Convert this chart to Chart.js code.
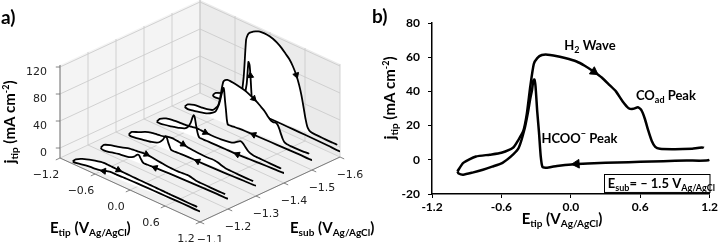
<!DOCTYPE html>
<html>
<head>
<meta charset="utf-8">
<script src="https://cdn.jsdelivr.net/npm/chart.js@4.4.1/dist/chart.umd.min.js"></script>
<style>
  html, body { margin: 0; padding: 0; background: #fff; }
  #wrap { position: relative; width: 720px; height: 242px; overflow: hidden; }
  #chartA { position: absolute; left: 0; top: 0; }
  #chartB { position: absolute; left: 360px; top: 0; }
</style>
</head>
<body>
<div id="wrap">
  <canvas id="chartA" width="380" height="242"></canvas>
  <canvas id="chartB" width="360" height="242"></canvas>
</div>
<script>
'use strict';

// ---- data ----
const esubVals = [-1.1, -1.2, -1.3, -1.4, -1.5, -1.6];

// forward scan (upper branch, going right)
const fwdE = [-0.98, -0.93, -0.82, -0.7, -0.6, -0.5, -0.45, -0.41, -0.38, -0.35,
  -0.32, -0.29, -0.25, -0.2, -0.15, -0.05, 0.05, 0.12, 0.2, 0.27,
  0.33, 0.39, 0.45, 0.5, 0.54, 0.58, 0.61, 0.64, 0.67, 0.7,
  0.73, 0.77, 0.9, 1.05, 1.15];
const fwd11 = [-11, -6, -1, 2.5, 5, 7, 7.5, 7.6, 7.6, 7.5, 7.4, 7.3, 7.2, 7, 6.9, 6.7, 6.5, 6.4, 6.35, 6.3,
  6.2, 6.2, 6.1, 6.1, 6, 6, 6, 5.9, 5.9, 5.8, 5.8, 5.8, 5.7, 5.6, 5.5];
const fwd12 = [-10, -4, 0, 2.5, 5, 8, 8.5, 9, 9.2, 9.4, 9.8, 10.3, 10.8, 11, 10.6, 9.5, 8.5, 7.8, 7.2, 7,
  7, 7.3, 7.8, 8, 7.8, 7, 6.3, 5.8, 5.5, 5.3, 5.2, 5.2, 5.1, 5, 5];
const fwd13 = [-9.5, -4, 0, 5, 8, 9.5, 10, 10.5, 11, 12, 13, 13.5, 14, 14, 13.5, 12.5, 11, 10.3, 9.8, 9.5,
  9.3, 9.5, 10, 9.7, 9, 8, 7, 6.3, 5.8, 5.5, 5.3, 5.2, 5.1, 5, 5];
const fwd14 = [-10, -4, 1, 3, 4, 4.5, 5, 5.5, 6, 6.5, 7, 7.2, 7.2, 7, 6.8, 6.6, 6.8, 7.2, 8, 9,
  10.5, 14, 17.5, 16, 12, 8.5, 7, 6, 5.5, 5.2, 5, 5, 4.8, 4.6, 4.5];
const fwd15 = [-6.8, -1.8, 1.9, 3, 4.1, 7, 12, 17, 27, 43, 56, 59.5, 61.3, 61.5, 61, 59.5, 57.5, 55, 51.5, 48,
  44, 40, 34, 30.2, 29.8, 30.7, 29, 24, 17, 11, 7.5, 6.4, 6.2, 6.5, 7];
const fwd16 = [-9, -4, 0, 3, 6, 8, 40, 95, 104, 108, 110, 112, 114, 116, 117, 117, 115, 112, 107, 101,
  96, 88, 77, 64, 50, 32, 18, 8, 4, 2.5, 2, 1.8, 1.5, 1.3, 1.3];

// reverse scan (lower branch, going left)
const revE = [1.2, 1.0, 0.8, 0.6, 0.4, 0.2, 0.05, -0.05, -0.12, -0.18,
  -0.22, -0.245, -0.26, -0.275, -0.29, -0.305, -0.315, -0.325, -0.335, -0.35,
  -0.37, -0.4, -0.45, -0.5, -0.59, -0.68, -0.76, -0.85, -0.93, -0.97];
const rev11 = [1, 0.8, 0.6, 0.4, 0.2, 0, -0.3, -0.5, -0.7, -0.9, -1, -1.1, -1.1, -1.1, -1.1,
  -1.1, -1.1, -1.1, -1.2, -1.4, -1.8, -2.5, -4.5, -5.5, -6.8, -7.5, -8.5, -10, -11.5, -11.5];
const rev12 = [0.5, 0, -0.5, -1, -1.5, -2, -2.6, -3.1, -3.5, -3.8, -4, -4, -3.5, -2, 0,
  2, 3.5, 4.5, 5, 4.5, 3, 0, -3, -5, -6.5, -7.5, -9, -11, -12, -11.5];
const rev13 = [0.5, -0.5, -1.3, -2, -2.5, -2.8, -3, -3.3, -3.6, -4, -4.2, -4.2, -3.5, -1, 2,
  5, 8, 10.5, 12, 12.5, 10, 5, 0, -3, -5.5, -7, -8.5, -10, -11, -10.5];
const rev14 = [0, -1, -2, -3, -4, -4.3, -4.5, -4.7, -4.8, -5, -5, -5, -4, -1, 4,
  10, 15, 20, 23.5, 24.5, 20, 11, 3, -1, -4, -6, -8, -9.5, -10.5, -10.5];
const rev15 = [0, -0.4, -0.8, -1.2, -1.6, -2, -2.4, -3, -3.6, -4.3, -4.6, -4.2, 2, 16, 28,
  43, 47, 46, 41, 36, 28, 18, 7, 3, -1.75, -4, -5.8, -7.5, -8.7, -8];
const rev16 = [-6.4, -6, -5.8, -5.6, -5.5, -5.5, -5.5, -5.5, -5.5, -5.6, -5.8, -6, -6, -5.5, -3,
  5, 15, 30, 45, 60, 64, 30, 8, 0, -4, -6.5, -8.5, -10, -11, -10.5];

const fwdJ = [fwd11, fwd12, fwd13, fwd14, fwd15, fwd16];
const revJ = [rev11, rev12, rev13, rev14, rev15, rev16];

// where the direction arrows sit (Etip)
const fwdArrowE = [-0.2, -0.2, -0.05, -0.15, 0.2, 0.45];
const revArrowE = [-0.45, -0.05, 0.2, 0.4, 0.2, -0.335];
const bArrowE = [0.2, 0.05];

// axis ticks
const eTicks = [-1.2, -0.6, 0, 0.6, 1.2];
const sTicks = [-1.1, -1.2, -1.3, -1.4, -1.5, -1.6];
const jTicks = [0, 40, 80, 120];

// ---- 3D box: limits and on-screen geometry ----
const eLim = [-1.2, 1.2], sLim = [-1.1, -1.6], jLim = [-14.8, 123];
const boxOrigin = [60, 158], eAxisPx = [140, 64], sAxisPx = [140, -65], jPx = 0.675;

function proj(e, s, j) {
  const u = (e - eLim[0]) / (eLim[1] - eLim[0]);
  const w = (s - sLim[0]) / (sLim[1] - sLim[0]);
  return {
    x: boxOrigin[0] + u * eAxisPx[0] + w * sAxisPx[0],
    y: boxOrigin[1] + u * eAxisPx[1] + w * sAxisPx[1] - (j - jLim[0]) * jPx
  };
}

function nearest(arr, v) {
  let b = 0;
  arr.forEach((a, i) => { if (Math.abs(a - v) < Math.abs(arr[b] - v)) b = i; });
  return b;
}

function arrowRadius(size) {
  return c => (c.type === 'data' && c.dataset.arrows.includes(c.dataIndex)) ? size : 0;
}

function arrowRot(c) {
  if (c.type !== 'data') return 0;
  const d = c.dataset.data, i = c.dataIndex;
  const a = d[Math.max(i - 1, 0)], b = d[Math.min(i + 1, d.length - 1)];
  const xs = c.chart.scales.x, ys = c.chart.scales.y;
  const dx = xs.getPixelForValue(b.x) - xs.getPixelForValue(a.x);
  const dy = ys.getPixelForValue(b.y) - ys.getPixelForValue(a.y);
  return Math.atan2(dy, dx) * 180 / Math.PI + 90;
}

// no stroke on the turn-around at the positive end (upper and lower ends stay apart)
const turnGap = {
  borderColor: c => c.p0DataIndex === fwdE.length - 1 ? 'rgba(0,0,0,0)' : undefined
};

function richText(ctx, runs, x, y, align, angle) {
  ctx.save();
  ctx.translate(x, y);
  if (angle) ctx.rotate(angle);
  ctx.textAlign = 'left';
  ctx.textBaseline = 'alphabetic';
  ctx.fillStyle = '#000';
  let total = 0;
  runs.forEach(r => { ctx.font = 'bold ' + r[1] + 'px Lato'; total += ctx.measureText(r[0]).width; });
  let cx = align === 'center' ? -total / 2 : align === 'right' ? -total : 0;
  runs.forEach(r => {
    ctx.font = 'bold ' + r[1] + 'px Lato';
    ctx.fillText(r[0], cx, r[2] || 0);
    cx += ctx.measureText(r[0]).width;
  });
  ctx.restore();
}

const tipTitle = [['E', 15], ['tip', 10, 3], [' (V', 15], ['Ag/AgCl', 10, 3], [')', 15]];
const subTitle = [['E', 15], ['sub', 10, 3], [' (V', 15], ['Ag/AgCl', 10, 3], [')', 15]];
const jTitle = [['j', 16], ['tip', 10, 3], [' (mA cm', 15], ['-2', 9, -6], [')', 15]];

const fmt = v => v.toFixed(1).replace('-', '\u2212');

// ---- panel a ----
const box3d = {
  id: 'box3d',
  beforeDatasetsDraw(chart) {
    const ctx = chart.ctx, xs = chart.scales.x, ys = chart.scales.y;
    const P = (e, s, j) => { const p = proj(e, s, j); return [xs.getPixelForValue(p.x), ys.getPixelForValue(p.y)]; };
    const [e0, e1] = eLim, [s0, s1] = sLim, [j0, j1] = jLim;
    const poly = (pts, color) => {
      ctx.beginPath();
      pts.forEach((p, i) => i ? ctx.lineTo(p[0], p[1]) : ctx.moveTo(p[0], p[1]));
      ctx.closePath();
      ctx.fillStyle = color;
      ctx.fill();
    };
    const seg = (a, b) => { ctx.beginPath(); ctx.moveTo(a[0], a[1]); ctx.lineTo(b[0], b[1]); ctx.stroke(); };
    ctx.save();
    poly([P(e0, s0, j0), P(e0, s1, j0), P(e0, s1, j1), P(e0, s0, j1)], '#f4f4f4');
    poly([P(e0, s1, j0), P(e1, s1, j0), P(e1, s1, j1), P(e0, s1, j1)], '#ebebeb');
    poly([P(e0, s0, j0), P(e1, s0, j0), P(e1, s1, j0), P(e0, s1, j0)], '#f0f0f0');
    ctx.strokeStyle = '#c8c8c8';
    ctx.lineWidth = 0.8;
    eTicks.forEach(e => { seg(P(e, s0, j0), P(e, s1, j0)); seg(P(e, s1, j0), P(e, s1, j1)); });
    sTicks.forEach(s => { seg(P(e0, s, j0), P(e1, s, j0)); seg(P(e0, s, j0), P(e0, s, j1)); });
    jTicks.forEach(j => { seg(P(e0, s0, j), P(e0, s1, j)); seg(P(e0, s1, j), P(e1, s1, j)); });
    // axis lines and ticks
    ctx.strokeStyle = '#666';
    seg(P(e0, s0, j0), P(e1, s0, j0));
    seg(P(e1, s0, j0), P(e1, s1, j0));
    seg(P(e0, s0, j0), P(e0, s0, j1));
    const ds = (s1 - s0) * 0.03, de = (e1 - e0) * 0.03;
    eTicks.forEach(e => seg(P(e, s0, j0), P(e, s0 - ds, j0)));
    sTicks.forEach(s => seg(P(e1, s, j0), P(e1 + de, s, j0)));
    jTicks.forEach(j => seg(P(e0, s0, j), P(e0 - de / 2, s0 - ds / 2, j)));
    ctx.restore();
  },
  afterDraw(chart) {
    const ctx = chart.ctx, xs = chart.scales.x, ys = chart.scales.y;
    const P = (e, s, j) => { const p = proj(e, s, j); return [xs.getPixelForValue(p.x), ys.getPixelForValue(p.y)]; };
    const [e0, e1] = eLim, [s0] = sLim, [j0] = jLim;
    ctx.save();
    ctx.font = '11px "DejaVu Sans"';
    ctx.fillStyle = '#222';
    ctx.textBaseline = 'middle';
    ctx.textAlign = 'center';
    eTicks.forEach(e => { const p = P(e, s0, j0); ctx.fillText(fmt(e), p[0] - 14, p[1] + 17); });
    sTicks.forEach(s => { const p = P(e1, s, j0); ctx.fillText(fmt(s), p[0] + 10, p[1] + 18); });
    ctx.textAlign = 'right';
    jTicks.forEach(j => { const p = P(e0, s0, j); ctx.fillText(String(j), p[0] - 13, p[1] + 5); });
    ctx.restore();
    richText(ctx, tipTitle, 50, 233, 'left');
    richText(ctx, subTitle, 290, 233, 'left');
    richText(ctx, jTitle, 15, 122, 'center', -Math.PI / 2);
    richText(ctx, [['a)', 19]], 1, 24, 'left');
  }
};

const datasetsA = esubVals.map((s, k) => {
  const pts = fwdE.map((e, i) => proj(e, s, fwdJ[k][i]))
    .concat(revE.map((e, i) => proj(e, s, revJ[k][i])));
  pts.push(pts[0]);
  return {
    data: pts,
    arrows: [nearest(fwdE, fwdArrowE[k]), fwdE.length + nearest(revE, revArrowE[k])],
    showLine: true,
    borderColor: '#000',
    borderWidth: 1.8,
    backgroundColor: '#fff',
    fill: 'shape',
    tension: 0.2,
    segment: turnGap,
    pointStyle: 'triangle',
    pointRadius: arrowRadius(3.5),
    pointRotation: arrowRot,
    pointBackgroundColor: '#000',
    pointBorderColor: '#000',
    pointBorderWidth: 1
  };
});

new Chart(document.getElementById('chartA'), {
  type: 'scatter',
  data: { datasets: datasetsA },
  options: {
    responsive: false,
    animation: false,
    layout: { padding: 0 },
    plugins: { legend: { display: false }, tooltip: { enabled: false } },
    scales: {
      x: { type: 'linear', display: false, min: 0, max: 380 },
      y: { type: 'linear', display: false, min: 0, max: 242, reverse: true }
    }
  },
  plugins: [box3d]
});

// ---- panel b ----
const k15 = esubVals.indexOf(-1.5);
const loopB = fwdE.map((e, i) => ({ x: e, y: fwdJ[k15][i] }))
  .concat(revE.map((e, i) => ({ x: e, y: revJ[k15][i] })));
loopB.push(loopB[0]);

const notesB = {
  id: 'notesB',
  afterDraw(chart) {
    const ctx = chart.ctx, xs = chart.scales.x, ys = chart.scales.y;
    const X = v => xs.getPixelForValue(v), Y = v => ys.getPixelForValue(v);
    richText(ctx, [['H', 13], ['2', 9, 3], [' Wave', 13]], X(-0.056), Y(64), 'left');
    richText(ctx, [['CO', 13], ['ad', 9, 3], [' Peak', 13]], X(0.563), Y(35), 'left');
    richText(ctx, [['HCOO', 13], ['\u2212', 9, -6], [' Peak', 13]], X(-0.254), Y(9.9), 'left');
    ctx.save();
    ctx.strokeStyle = '#000';
    ctx.lineWidth = 1;
    ctx.strokeRect(Math.round(X(0.288)) + 0.5, Math.round(Y(-8.2)) + 0.5, X(1.2) - X(0.288), Y(-18.7) - Y(-8.2));
    ctx.restore();
    richText(ctx, [['E', 13], ['sub', 9, 3], ['= \u2013 1.5 V', 13], ['Ag/AgCl', 9, 3]], X(0.32), Y(-16.3), 'left');
    richText(ctx, tipTitle, 202, 224, 'center');
    richText(ctx, jTitle, 35, 98, 'center', -Math.PI / 2);
    richText(ctx, [['b)', 19]], 12, 23, 'left');
  }
};

const tickFont = { family: 'Lato', size: 12, weight: 'bold' };

new Chart(document.getElementById('chartB'), {
  type: 'scatter',
  data: {
    datasets: [{
      data: loopB,
      arrows: [nearest(fwdE, bArrowE[0]), fwdE.length + nearest(revE, bArrowE[1])],
      showLine: true,
      borderColor: '#000',
      borderWidth: 2.5,
      fill: false,
      tension: 0.2,
      segment: turnGap,
      pointStyle: 'triangle',
      pointRadius: arrowRadius(5),
      pointRotation: arrowRot,
      pointBackgroundColor: '#000',
      pointBorderColor: '#000',
      pointBorderWidth: 1
    }]
  },
  options: {
    responsive: false,
    animation: false,
    layout: { padding: { top: 23, right: 9, left: 0, bottom: 0 } },
    plugins: { legend: { display: false }, tooltip: { enabled: false } },
    scales: {
      x: {
        type: 'linear', min: -1.2, max: 1.2,
        afterFit: s => { s.height = 48; },
        ticks: { stepSize: 0.6, color: '#000', font: tickFont, padding: 2, callback: v => v.toFixed(1) },
        grid: { drawOnChartArea: false, drawTicks: true, tickLength: 4, color: '#000' },
        border: { color: '#000', width: 1.5 }
      },
      y: {
        type: 'linear', min: -20, max: 80,
        afterFit: s => { s.width = 72; },
        ticks: { stepSize: 20, color: '#000', font: tickFont, padding: 8 },
        grid: { drawOnChartArea: false, drawTicks: true, tickLength: 4, color: '#000' },
        border: { color: '#000', width: 1.5 }
      }
    }
  },
  plugins: [notesB]
});
</script>
</body>
</html>
